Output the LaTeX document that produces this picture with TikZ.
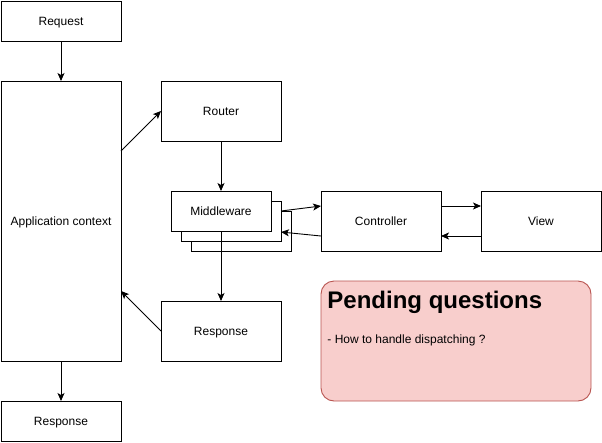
\documentclass[tikz,border=0pt]{standalone}
\usepackage{fontspec}
\setmainfont{Liberation Sans}
\usepackage{xcolor}
\usepackage{tikz}
\usetikzlibrary{arrows.meta,positioning}
\definecolor{notefill}{HTML}{F8CECC}
\definecolor{notedraw}{HTML}{B85450}

\begin{document}
\begin{tikzpicture}[x=1pt,y=1pt,node distance=40pt,font=\fontsize{12}{14}\selectfont,
    >={Stealth[length=8pt,width=7pt,inset=2pt]},line width=0.9pt]
    \tikzstyle{b}=[draw,fill=white,outer sep=0pt,inner sep=0pt,text height=10pt,text depth=2pt,minimum width=120pt,minimum height=40pt]
    \tikzstyle{bb}=[b,minimum height=60pt]
    \tikzstyle{mwb}=[b,minimum width=100pt]
    \tikzstyle{note}=[draw=notedraw,fill=notefill,rounded corners=13pt,outer sep=0pt,minimum width=270pt,minimum height=120pt]
    \useasboundingbox (-1,1) rectangle (601,-441);
    \node[b] (req) at (60,-20) {Request};
    \node[b,minimum height=280pt,below=of req] (app) {Application context};
    \node[b,below=of app]  (resp1) {Response};
    \node[bb] (router) at (220,-110) {Router};
    \node[mwb] (mw3) at (240,-230) {};
    \node[mwb] (mw2) at (230,-220) {};
    \node[mwb,below=50pt of router] (mw) {Middleware};
    \node[bb] (ctrl) at (380,-220) {Controller};
    \node[bb,right=of ctrl] (view) {View};
    \node[bb,below=70pt of mw] (resp2) {Response};
    \node[note] (pq) at (455,-340) {};
    \node[anchor=base west,inner sep=0pt,font=\fontsize{24}{28}\selectfont\bfseries] (pqtitle) at ([shift={(6,-27)}]pq.north west) {Pending questions};
    \node[anchor=base west,inner sep=0pt] (pqline) at ([shift={(6,-62)}]pq.north west) {- How to handle dispatching ?};
    \foreach \a/\b in {req/app,app/resp1,router/mw,mw/resp2} \draw[->] (\a) -- (\b);
    \draw[->] ([yshift=70pt]app.east) -- (router.west);
    \draw[->] (resp2.west) -- ([yshift=-70pt]app.east);
    \draw[->] ([yshift=10pt]mw2.east) -- ([yshift=15pt]ctrl.west);
    \draw[->] ([yshift=-15pt]ctrl.west) -- ([yshift=-11pt]mw2.east);
    \draw[->] ([yshift=15pt]ctrl.east) -- ([yshift=15pt]view.west);
    \draw[->] ([yshift=-15pt]view.west) -- ([yshift=-15pt]ctrl.east);
  \end{tikzpicture}
\end{document}
